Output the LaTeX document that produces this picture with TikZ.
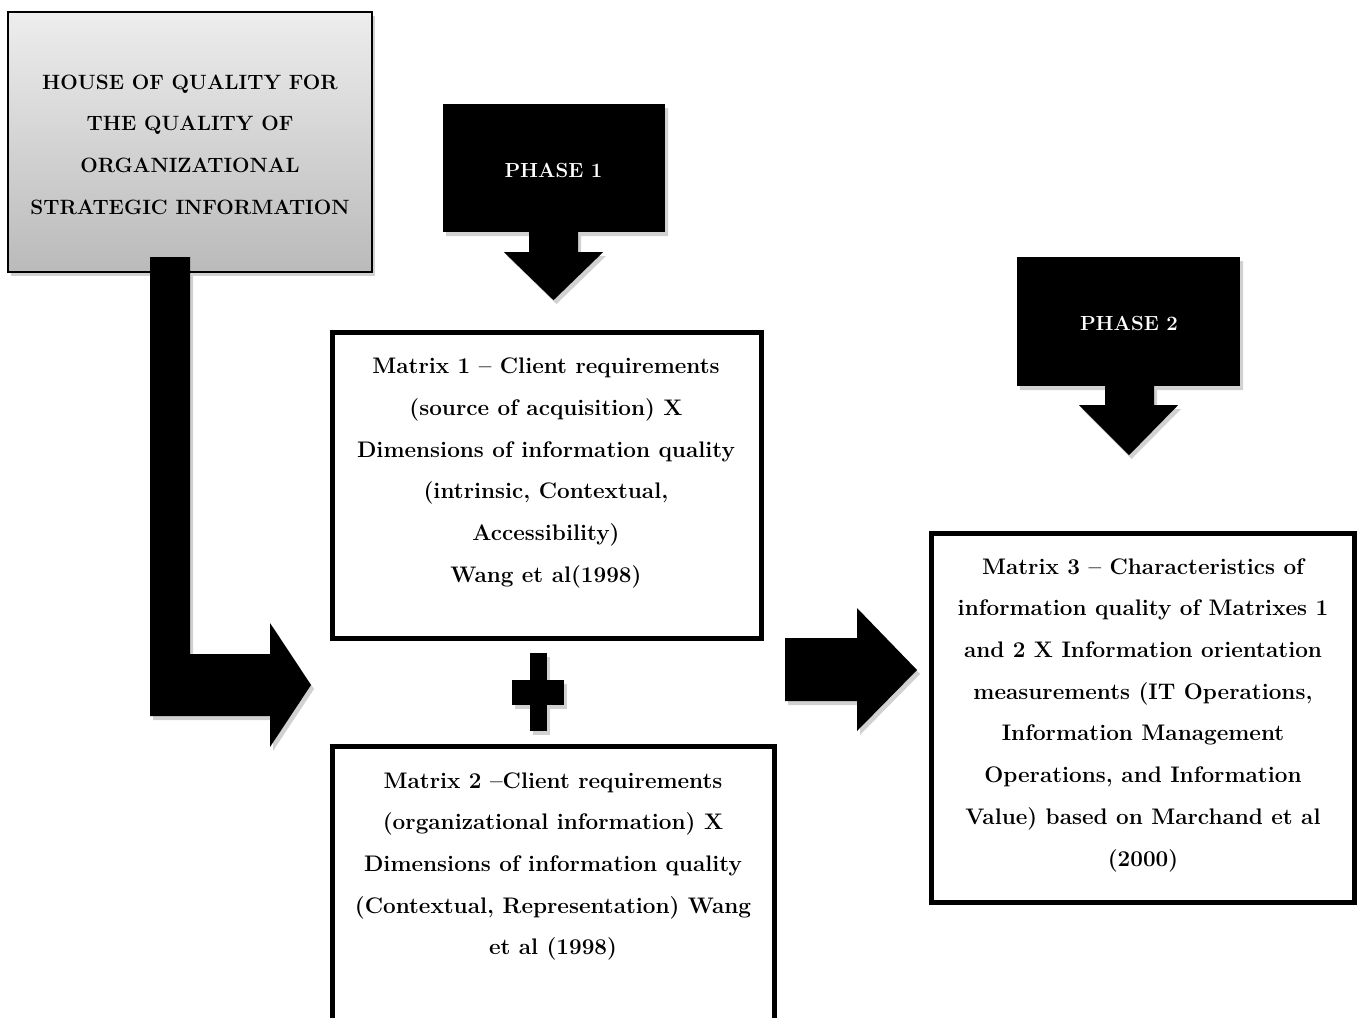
\documentclass[tikz,border=0pt]{standalone}
\usepackage{fontspec}
\usetikzlibrary{calc}
\begin{document}
\begin{tikzpicture}[x=1pt,y=-1pt,
  txt/.style={font=\fontsize{22.5}{41.7}\selectfont\bfseries, align=center, inner sep=0pt, text=black},
  hoqbox/.style={draw=black, line width=2pt, top color=black!7, bottom color=black!27,
     minimum width=364pt, minimum height=260pt, inner sep=0pt},
  hoqtxt/.style={font=\fontsize{20.7}{41.7}\selectfont\bfseries, align=center, inner sep=0pt},
  phasebox/.style={fill=black, text=white, inner sep=0pt, font=\fontsize{20.4}{26}\selectfont\bfseries},
  matbox/.style={draw=black, line width=5pt, fill=white, inner sep=0pt},
  blk/.style={fill=black},
  shd/.style={fill=black!18}]
\useasboundingbox (0,0) rectangle (1359,1017);
\clip (0,0) rectangle (1359,1017);
\fill[white] (0,0) rectangle (1359,1017);

% ---- shadows ----
\fill[shd] (11,16) rectangle (375,276);
\fill[shd] ($(443,104)+(3,4)$) -- ++(222,0) -- ++(0,128) -- ++(-87,0) -- ++(0,20) -- ++(25,0)
   -- ++(-49.5,48) -- ++(-49.5,-48) -- ++(25,0) -- ++(0,-20) -- ++(-86,0) -- cycle;
\fill[shd] ($(1017,257)+(3,4)$) -- ++(223,0) -- ++(0,129) -- ++(-86,0) -- ++(0,19) -- ++(24,0)
   -- ++(-49.5,50) -- ++(-49.5,-50) -- ++(26,0) -- ++(0,-19) -- ++(-88,0) -- cycle;
\fill[shd] (153,261) -- (193,261) -- (193,658) -- (273,658) -- (273,627) -- (314,689)
   -- (273,751) -- (273,720) -- (153,720) -- cycle;
\fill[shd] (788,642) -- (860,642) -- (860,612) -- (920,674) -- (860,735) -- (860,705) -- (788,705) -- cycle;
\fill[shd] (533,657) rectangle (550,735);
\fill[shd] (515,684) rectangle (567,709);

% ---- house of quality ----
\node[hoqbox] (hoq) at (190,142) {};
\node[hoqtxt] (hoqt) at (190,144.5) {HOUSE OF QUALITY FOR\\THE QUALITY OF\\ORGANIZATIONAL\\STRATEGIC INFORMATION};

% ---- phase 1 ----
\node[phasebox, minimum width=222pt, minimum height=128pt] (p1) at (554,168) {};
\node[text=white, inner sep=0pt, font=\fontsize{20.4}{26}\selectfont\bfseries] (p1t) at (553.5,170) {PHASE 1};
\fill[blk] ($(p1.south)+(-25,-0.5)$) coordinate (p1a) -- ++(49,0) -- ++(0,20.5) -- ++(25,0)
   -- ($(p1.south)+(-0.5,68)$) coordinate (p1tip) -- ($(p1.south)+(-50,20)$) -- ++(25,0) -- cycle;

% ---- phase 2 ----
\node[phasebox, minimum width=223pt, minimum height=129pt] (p2) at (1128.5,321.5) {};
\node[text=white, inner sep=0pt, font=\fontsize{20.4}{26}\selectfont\bfseries] (p2t) at (1129,323.5) {PHASE 2};
\fill[blk] ($(p2.south)+(-23.5,-0.5)$) coordinate (p2a) -- ++(49,0) -- ++(0,19.5) -- ++(24,0)
   -- ($(p2.south)+(0.5,69)$) coordinate (p2tip) -- ($(p2.south)+(-49.5,19)$) -- ++(26,0) -- cycle;

% ---- matrix boxes ----
\node[matbox, minimum width=429pt, minimum height=306pt] (m1) at (546.5,485) {};
\node[matbox, minimum width=442pt, minimum height=300pt] (m2) at (553.5,896.5) {};
\node[matbox, minimum width=423pt, minimum height=369pt] (m3) at (1142.5,717.5) {};

\node[txt] (m1t) at (546,473) {Matrix 1 -- Client requirements\\(source of acquisition) X\\Dimensions of information quality\\(intrinsic, Contextual,\\Accessibility)\\Wang et al(1998)};
\node[txt] (m2t) at (553,866.5) {Matrix 2 --Client requirements\\(organizational information) X\\Dimensions of information quality\\(Contextual, Representation) Wang\\et al (1998)};
\node[txt] (m3t) at (1143,715) {Matrix 3 -- Characteristics of\\information quality of Matrixes 1\\and 2 X Information orientation\\measurements (IT Operations,\\Information Management\\Operations, and Information\\Value) based on Marchand et al\\(2000)};

% ---- bent arrow from house of quality ----
\coordinate (b0) at (150,257);
\fill[blk] (b0) -- ++(40,0) -- (190,654) -- (270,654) -- (270,623) -- (311,685) coordinate (btip)
   -- (270,747) -- (270,716) -- (150,716) -- cycle;

% ---- plus ----
\node[blk, minimum width=17pt, minimum height=78pt, inner sep=0pt] (plusv) at (538.5,692) {};
\node[blk, minimum width=52pt, minimum height=25pt, inner sep=0pt] (plush) at (538,692.5) {};

% ---- right arrow to matrix 3 ----
\fill[blk] (785,638) -- (857,638) -- (857,608) -- (917,670) coordinate (rtip) -- (857,731) -- (857,701) -- (785,701) -- cycle;
\end{tikzpicture}
\end{document}
